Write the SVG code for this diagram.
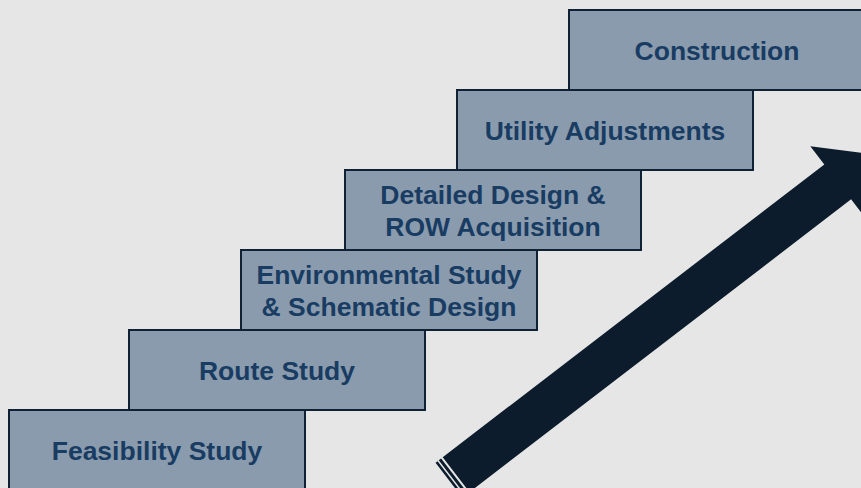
<svg xmlns="http://www.w3.org/2000/svg" width="861" height="488" viewBox="0 0 861 488">
  <style>
    .box { fill: #8a9bae; stroke: #0f2134; stroke-width: 2; }
    .lbl { font-family: "Liberation Sans", Arial, sans-serif; font-weight: bold; font-size: 26.5px; fill: #193c63; text-anchor: middle; }
    .arrow { fill: #0c1c2c; }
  </style>
  <rect x="0" y="0" width="861" height="488" fill="#e6e6e6"/>
  <g id="feasibility">
    <rect class="box" x="9" y="410" width="296" height="90"/>
    <text class="lbl" x="157" y="459.5">Feasibility Study</text>
  </g>
  <g id="route">
    <rect class="box" x="129" y="330" width="296" height="80"/>
    <text class="lbl" x="277" y="379.5">Route Study</text>
  </g>
  <g id="environmental">
    <rect class="box" x="241" y="250" width="296" height="80"/>
    <text class="lbl" x="389" y="283.5">Environmental Study</text>
    <text class="lbl" x="389" y="315.5">&amp; Schematic Design</text>
  </g>
  <g id="detailed">
    <rect class="box" x="345" y="170" width="296" height="80"/>
    <text class="lbl" x="493" y="204">Detailed Design &amp;</text>
    <text class="lbl" x="493" y="236">ROW Acquisition</text>
  </g>
  <g id="utility">
    <rect class="box" x="457" y="90" width="296" height="80"/>
    <text class="lbl" x="605" y="139.5">Utility Adjustments</text>
  </g>
  <g id="construction">
    <rect class="box" x="569" y="10" width="296" height="80"/>
    <text class="lbl" x="717" y="59.5">Construction</text>
  </g>
  <g id="connectors">
    <g transform="translate(456.1,474.7) rotate(-37.5)">
      <path class="arrow" d="M0,-22 L481,-22 L481,-45 L526,0 L481,45 L481,22 L0,22 Z"/>
      <rect class="arrow" x="-5" y="-22" width="3" height="44"/>
      <rect class="arrow" x="-9" y="-22" width="2.5" height="44"/>
    </g>
  </g>
</svg>
